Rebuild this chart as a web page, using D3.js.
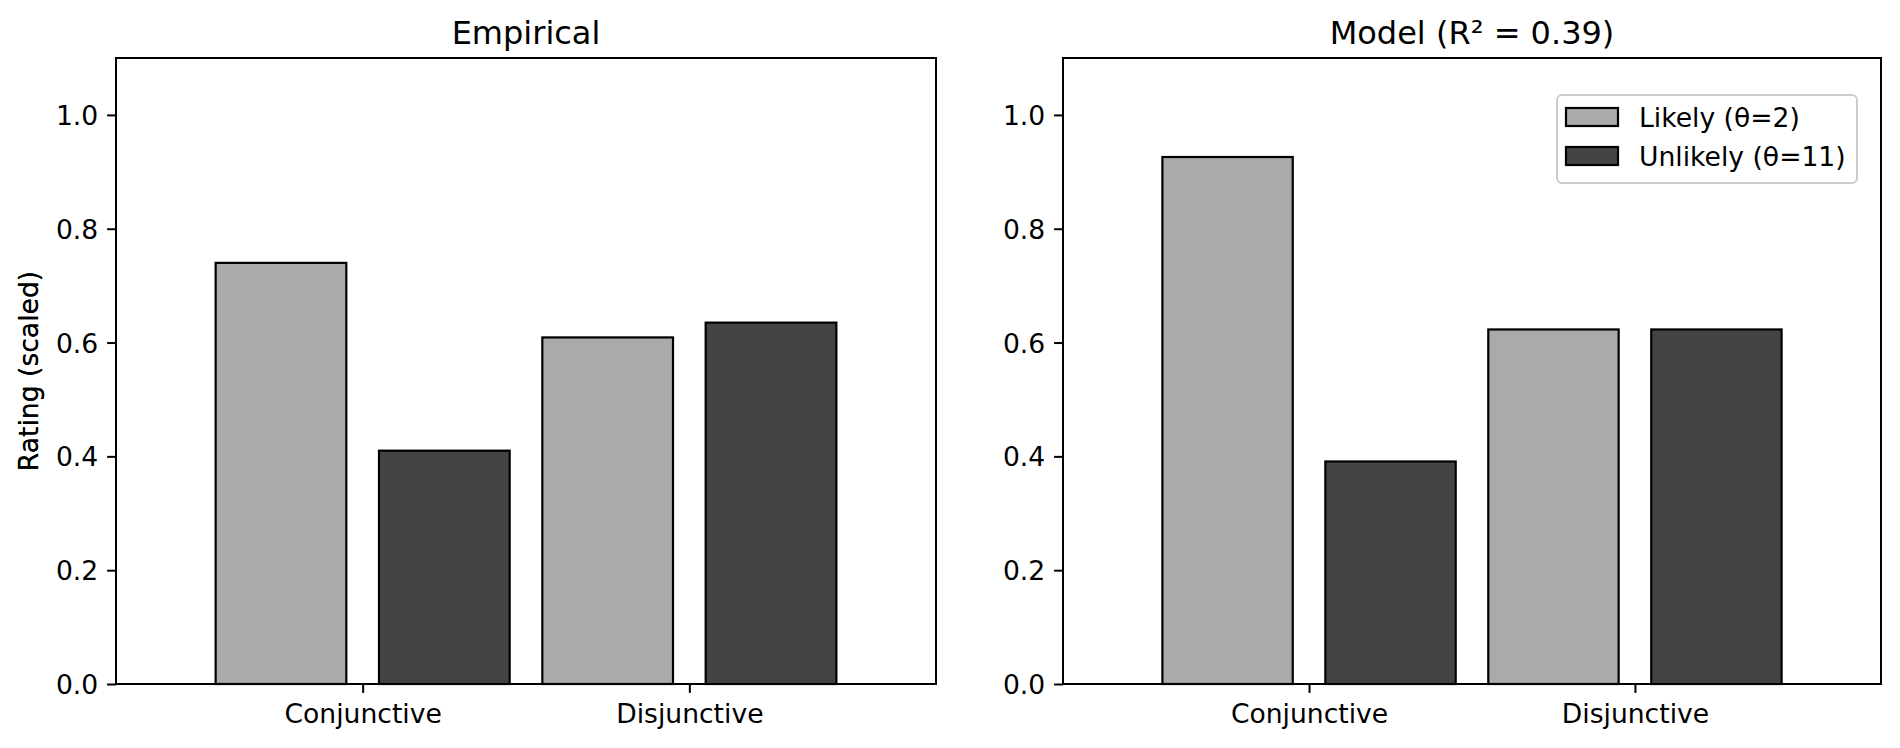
<!DOCTYPE html>
<html>
<head>
<meta charset="utf-8">
<script src="https://cdn.jsdelivr.net/npm/d3@7/dist/d3.min.js"></script>
<style>
  html, body { margin: 0; padding: 0; background: #fff; }
  svg { display: block; font-family: 'DejaVu Sans', sans-serif; }
</style>
</head>
<body>
<div id="chart"></div>
<script>
// data
var categories = ['Conjunctive', 'Disjunctive']
var conditions = ['Likely (θ=2)', 'Unlikely (θ=11)']
var conditionColors = ['#aaaaaa', '#444444']
var empiricalLikely = [0.740, 0.609]
var empiricalUnlikely = [0.410, 0.635]
var modelLikely = [0.926, 0.623]
var modelUnlikely = [0.391, 0.623]
var yTicks = [0.0, 0.2, 0.4, 0.6, 0.8, 1.0]
var barOffsets = [-0.25, 0.25]
var barWidth = 0.4

var W = 1900
var H = 748
var FONT = 26.6

var svg = d3.select('#chart').append('svg')
  .attr('width', W)
  .attr('height', H)

function drawPanel (left, width, title, series, legend) {
  var top = 58
  var h = 684 - top

  var x = d3.scaleLinear().domain([-0.755, 1.755]).range([0, width])
  var y = d3.scaleLinear().domain([0, 1.1]).range([h, 0])

  var g = svg.append('g')
    .attr('transform', 'translate(' + left + ', ' + top + ')')

  // bars
  series.forEach(function (vals, si) {
    g.append('g').selectAll('rect')
      .data(vals)
      .enter().append('rect')
      .attr('x', function (d, i) { return x(i + barOffsets[si] - barWidth / 2) })
      .attr('width', x(barWidth) - x(0))
      .attr('y', function (d) { return y(d) })
      .attr('height', function (d) { return y(0) - y(d) })
      .attr('fill', conditionColors[si])
      .attr('stroke', '#000')
      .attr('stroke-width', 2.2)
  })

  // y axis
  var yAxis = d3.axisLeft(y)
    .tickValues(yTicks)
    .tickFormat(d3.format('.1f'))
    .tickSize(8.9)
    .tickPadding(8.9)
  var ya = g.append('g').call(yAxis)
  ya.select('.domain').remove()
  ya.selectAll('line').attr('stroke', '#000').attr('stroke-width', 2)
  ya.selectAll('text')
    .attr('fill', '#000')
    .attr('font-size', FONT)
    .attr('font-family', 'DejaVu Sans')
    .attr('dy', '0.36em')

  // x axis
  var xAxis = d3.axisBottom(x)
    .tickValues([0, 1])
    .tickFormat(function (d) { return categories[d] })
    .tickSize(8.9)
    .tickPadding(9.5)
  var xa = g.append('g').attr('transform', 'translate(0, ' + h + ')').call(xAxis)
  xa.select('.domain').remove()
  xa.selectAll('line').attr('stroke', '#000').attr('stroke-width', 2)
  xa.selectAll('text')
    .attr('fill', '#000')
    .attr('font-size', FONT)
    .attr('font-family', 'DejaVu Sans')
    .attr('dy', '0.78em')

  // frame
  g.append('rect')
    .attr('x', 0).attr('y', 0)
    .attr('width', width).attr('height', h)
    .attr('fill', 'none')
    .attr('stroke', '#000')
    .attr('stroke-width', 2)

  // title
  g.append('text')
    .attr('x', width / 2)
    .attr('y', -14)
    .attr('text-anchor', 'middle')
    .attr('font-size', 32)
    .text(title)

  // y label
  g.append('text')
    .attr('transform', 'translate(' + (38 - left) + ', ' + (h / 2) + ') rotate(-90)')
    .attr('text-anchor', 'middle')
    .attr('font-size', FONT)
    .text('Rating (scaled)')

  if (legend) {
    var lx = 1557 - left
    var ly = 95 - top
    var lg = g.append('g').attr('transform', 'translate(' + lx + ', ' + ly + ')')
    lg.append('rect')
      .attr('width', 300).attr('height', 88)
      .attr('rx', 5).attr('ry', 5)
      .attr('fill', '#fff').attr('fill-opacity', 0.8)
      .attr('stroke', '#cccccc').attr('stroke-width', 2)
    conditions.forEach(function (c, i) {
      lg.append('rect')
        .attr('x', 9).attr('y', 13 + i * 39)
        .attr('width', 52).attr('height', 18)
        .attr('fill', conditionColors[i])
        .attr('stroke', '#000')
        .attr('stroke-width', 2.2)
      lg.append('text')
        .attr('x', 82)
        .attr('y', 31.5 + i * 39)
        .attr('font-size', FONT)
        .text(c)
    })
  }
}

drawPanel(116, 820, 'Empirical', [empiricalLikely, empiricalUnlikely], false)
drawPanel(1063, 818, 'Model (R² = 0.39)', [modelLikely, modelUnlikely], true)
</script>
</body>
</html>
